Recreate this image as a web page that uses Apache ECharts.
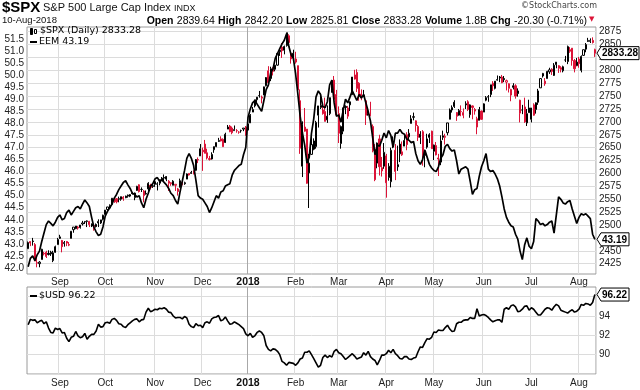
<!DOCTYPE html>
<html><head><meta charset="utf-8">
<script src="https://cdn.jsdelivr.net/npm/echarts@6/dist/echarts.min.js"></script>
<style>html,body{margin:0;padding:0;background:#fff}#c{width:640px;height:390px}</style>
</head><body><div id="c"></div>
<script>
// ---- categories: trading days 14-Aug-2017 .. 10-Aug-2018 ----
const startDay = '2017-08-14', endDay = '2018-08-10';
const holidays = ['2017-09-04','2017-11-23','2017-12-25','2018-01-01','2018-01-15','2018-02-19','2018-03-30','2018-05-28','2018-07-04'];
const xTickLabels = ['Sep','Oct','Nov','Dec','2018','Feb','Mar','Apr','May','Jun','Jul','Aug'];
const spxTicks = [2425,2450,2475,2500,2525,2550,2575,2600,2625,2650,2675,2700,2725,2750,2775,2800,2825,2850,2875];
const eemTicks = [42.0,42.5,43.0,43.5,44.0,44.5,45.0,45.5,46.0,46.5,47.0,47.5,48.0,48.5,49.0,49.5,50.0,50.5,51.0,51.5];
const usdTicks = [90,92,94];

// ---- $SPX daily [open, high, low, close] ----
const spx = [
// Aug 2017
[2454,2468,2454,2466],[2468,2468,2459,2465],[2469,2475,2460,2468],[2462,2465,2430,2430],[2427,2440,2418,2426],
[2425,2430,2418,2428],[2433,2454,2433,2453],[2445,2448,2441,2444],[2447,2450,2436,2439],[2445,2451,2441,2443],
[2447,2450,2440,2444],[2431,2450,2428,2446],[2447,2460,2446,2458],[2462,2475,2462,2472],
// Sep
[2474,2481,2473,2477],[2470,2471,2447,2458],[2464,2469,2458,2466],[2468,2469,2459,2465],[2462,2467,2459,2461],
[2474,2488,2474,2488],[2491,2496,2485,2496],[2493,2498,2492,2498],[2494,2498,2491,2496],[2495,2500,2493,2500],
[2502,2508,2499,2504],[2506,2507,2502,2507],[2507,2509,2496,2508],[2507,2508,2496,2501],[2498,2503,2496,2502],
[2499,2502,2489,2497],[2501,2503,2495,2497],[2504,2511,2496,2507],[2504,2510,2502,2510],[2511,2520,2509,2519],
// Oct
[2521,2529,2520,2529],[2530,2535,2528,2535],[2533,2540,2532,2538],[2540,2552,2538,2552],[2547,2549,2543,2549],
[2551,2552,2542,2545],[2550,2555,2544,2551],[2550,2555,2547,2555],[2554,2556,2547,2551],[2556,2557,2552,2553],
[2556,2559,2553,2558],[2556,2560,2554,2559],[2562,2564,2559,2561],[2553,2563,2548,2562],[2567,2576,2566,2575],
[2578,2579,2563,2565],[2569,2573,2564,2569],[2566,2568,2544,2557],[2561,2567,2559,2560],[2570,2583,2566,2581],
[2577,2580,2569,2573],[2576,2579,2572,2575],
// Nov
[2584,2588,2574,2579],[2579,2583,2567,2580],[2581,2588,2577,2588],[2587,2593,2585,2591],[2592,2598,2585,2591],
[2589,2595,2585,2594],[2581,2587,2566,2585],[2580,2583,2576,2582],[2577,2587,2577,2585],[2577,2579,2566,2579],
[2570,2572,2557,2565],[2573,2590,2573,2586],[2583,2583,2577,2579],[2580,2584,2578,2582],[2589,2600,2589,2599],
[2600,2600,2596,2597],[2600,2605,2599,2602],[2603,2606,2598,2601],[2606,2628,2605,2627],[2627,2631,2620,2626],
[2634,2657,2634,2648],
// Dec
[2645,2650,2605,2642],[2657,2665,2639,2639],[2640,2648,2627,2630],[2627,2634,2625,2629],[2628,2641,2627,2637],
[2646,2652,2640,2652],[2652,2660,2651,2660],[2662,2669,2661,2664],[2667,2672,2662,2663],[2666,2668,2652,2652],
[2660,2679,2659,2676],[2686,2694,2686,2690],[2692,2694,2680,2681],[2688,2691,2676,2679],[2683,2693,2683,2685],
[2683,2686,2679,2683],[2680,2682,2677,2680],[2683,2685,2679,2683],[2686,2688,2682,2688],[2690,2692,2673,2674],
// Jan 2018
[2684,2696,2683,2696],[2698,2715,2698,2713],[2719,2729,2719,2724],[2731,2743,2728,2743],[2743,2748,2737,2748],
[2751,2760,2747,2751],[2746,2751,2736,2748],[2752,2767,2752,2768],[2770,2787,2769,2786],[2799,2808,2769,2776],
[2784,2807,2779,2803],[2802,2806,2790,2798],[2802,2810,2798,2810],[2810,2833,2809,2833],[2836,2843,2828,2839],
[2845,2853,2824,2838],[2846,2848,2831,2839],[2848,2873,2846,2873],[2867,2870,2852,2854],[2833,2838,2813,2822],
[2833,2840,2816,2824],
// Feb
[2816,2836,2813,2822],[2809,2809,2760,2762],[2741,2763,2638,2649],[2614,2701,2593,2695],[2690,2727,2681,2682],
[2686,2686,2580,2581],[2601,2638,2533,2620],[2637,2673,2636,2656],[2647,2668,2645,2663],[2652,2702,2648,2699],
[2713,2731,2689,2731],[2728,2755,2725,2732],[2723,2738,2714,2716],[2720,2747,2701,2701],[2711,2732,2698,2704],
[2716,2747,2713,2747],[2757,2780,2757,2780],[2781,2789,2744,2744],[2753,2762,2713,2714],
// Mar
[2716,2730,2659,2678],[2658,2693,2648,2691],[2682,2728,2676,2721],[2730,2732,2715,2728],[2711,2731,2706,2727],
[2733,2740,2721,2739],[2753,2787,2752,2787],[2791,2801,2782,2783],[2796,2802,2758,2765],[2775,2777,2741,2749],
[2754,2763,2742,2747],[2751,2762,2748,2752],[2741,2742,2694,2713],[2716,2724,2712,2717],[2715,2739,2711,2712],
[2691,2695,2641,2644],[2646,2657,2585,2588],[2620,2660,2610,2659],[2667,2675,2596,2613],[2611,2632,2594,2605],
[2614,2659,2609,2641],
// Apr
[2634,2638,2553,2582],[2592,2620,2586,2614],[2584,2650,2573,2645],[2658,2672,2649,2663],[2645,2657,2587,2604],
[2617,2654,2605,2613],[2638,2666,2622,2657],[2636,2662,2634,2642],[2653,2675,2653,2664],[2675,2680,2645,2656],
[2671,2686,2665,2678],[2697,2713,2697,2706],[2710,2718,2703,2709],[2702,2703,2681,2693],[2691,2694,2663,2670],
[2676,2682,2657,2670],[2681,2684,2615,2635],[2635,2646,2612,2639],[2651,2677,2648,2667],[2675,2678,2659,2670],
[2682,2683,2648,2648],
// May
[2643,2656,2626,2655],[2654,2661,2635,2636],[2628,2638,2595,2630],[2622,2674,2616,2663],[2670,2683,2665,2673],
[2670,2677,2656,2672],[2679,2698,2674,2698],[2705,2726,2705,2723],[2723,2732,2718,2728],[2738,2742,2727,2730],
[2718,2719,2702,2711],[2713,2725,2712,2722],[2720,2732,2711,2720],[2718,2726,2707,2713],[2735,2740,2725,2733],
[2739,2742,2721,2724],[2714,2734,2708,2733],[2731,2732,2705,2728],[2724,2727,2714,2721],[2706,2710,2676,2690],
[2703,2729,2703,2724],[2721,2722,2704,2705],
// Jun
[2719,2736,2719,2735],[2742,2750,2740,2747],[2748,2752,2739,2749],[2753,2772,2748,2772],[2775,2779,2760,2770],
[2765,2779,2763,2779],[2781,2790,2780,2782],[2785,2789,2777,2787],[2787,2791,2775,2776],[2784,2789,2777,2782],
[2777,2782,2761,2780],[2765,2775,2757,2774],[2752,2764,2740,2763],[2770,2775,2763,2767],[2770,2773,2745,2750],
[2760,2765,2749,2755],[2742,2743,2699,2717],[2723,2733,2715,2723],[2729,2747,2698,2700],[2698,2725,2692,2716],
[2727,2743,2718,2718],
// Jul
[2705,2727,2699,2727],[2733,2736,2712,2713],[2724,2738,2716,2737],[2738,2764,2733,2760],[2766,2784,2766,2784],
[2789,2795,2786,2794],[2779,2785,2770,2774],[2784,2799,2784,2798],[2797,2805,2793,2801],[2802,2804,2791,2798],
[2790,2814,2789,2810],[2811,2816,2804,2816],[2809,2810,2795,2804],[2805,2808,2796,2802],[2799,2809,2796,2807],
[2820,2828,2816,2820],[2817,2848,2812,2846],[2840,2845,2834,2837],[2843,2843,2809,2819],[2819,2822,2796,2803],
[2809,2824,2808,2816],
// Aug
[2822,2826,2805,2813],[2800,2829,2796,2827],[2829,2840,2828,2840],[2841,2853,2835,2850],[2856,2863,2855,2858],
[2856,2862,2853,2858],[2858,2864,2852,2854],[2840,2842,2826,2833.28]
];

// ---- EEM close (left scale) ----
const eem = [
42.05,42.40,42.50,42.30,42.55,42.70,43.10,43.45,43.80,43.95,43.85,43.75,43.90,44.10,
44.20,44.00,44.05,44.30,44.40,44.20,44.35,44.50,44.55,44.45,44.65,44.82,44.70,44.55,44.10,43.70,43.50,43.35,43.40,43.70,
44.15,44.35,44.50,44.65,44.90,45.05,45.25,45.40,45.55,45.62,45.45,45.30,45.10,45.05,44.95,45.00,44.70,44.50,44.85,45.10,45.40,45.50,
45.70,45.75,45.60,45.65,45.55,45.45,45.30,45.10,45.00,44.80,44.65,45.15,45.60,46.05,46.55,46.75,46.55,46.25,45.65,45.00,44.90,
44.85,44.70,44.55,44.30,44.50,44.75,45.00,44.90,45.15,45.20,45.40,45.45,45.50,45.85,46.05,46.15,46.25,46.30,46.70,47.00,
48.25,48.60,48.85,48.95,48.80,48.65,48.50,48.95,49.40,49.60,50.10,50.25,50.70,50.90,51.10,51.30,51.45,51.72,51.20,50.85,50.70,
50.05,49.20,48.30,47.60,47.10,46.35,46.60,47.60,48.20,49.10,49.35,49.20,48.70,48.65,48.90,49.60,49.80,48.85,48.30,
48.35,48.05,48.55,49.00,48.85,49.10,49.35,49.15,48.95,49.20,49.05,49.20,48.85,48.50,48.10,47.40,46.70,47.10,47.05,47.30,47.60,
47.40,47.70,47.50,47.00,47.60,47.60,47.75,47.60,47.55,47.35,47.30,47.20,47.25,46.75,46.45,46.30,46.50,46.90,46.60,46.30,46.15,
46.05,46.00,46.20,46.55,46.70,47.05,47.13,46.95,46.85,46.90,46.45,45.90,46.10,46.15,46.20,46.10,45.60,45.05,45.25,45.30,45.80,46.20,
46.45,46.75,46.10,46.00,46.05,45.90,45.70,45.40,44.95,44.45,44.10,43.90,43.75,43.70,43.40,43.20,42.70,42.35,42.95,43.25,42.90,
42.80,43.10,44.05,43.95,43.80,43.85,43.75,43.80,43.90,43.95,43.45,44.20,44.95,44.85,44.70,44.65,44.75,44.80,44.45,44.15,43.85,
44.10,44.25,44.20,44.25,44.15,44.05,43.40,43.19
];

// ---- $USD close ----
const usd = [
93.10,93.65,93.55,93.60,93.30,93.45,93.55,93.20,93.40,92.75,92.30,92.25,92.75,92.60,
92.70,92.25,92.30,91.70,91.35,91.80,91.90,92.40,91.95,91.75,91.85,92.20,91.60,91.90,92.10,92.10,92.45,93.15,92.85,92.90,
93.30,93.35,93.25,93.65,93.75,93.55,93.20,93.15,92.90,92.80,93.10,93.30,93.50,93.65,93.70,93.40,93.60,93.65,94.40,94.80,94.45,94.55,
94.70,94.65,94.80,94.75,94.85,94.70,94.40,94.35,94.00,93.80,93.85,93.85,93.70,93.95,93.80,93.15,92.90,92.80,93.20,93.00,93.05,
92.80,93.30,93.40,93.25,93.70,93.85,93.90,94.05,93.50,93.60,93.90,93.50,93.15,93.20,93.40,93.25,93.10,92.90,92.70,92.15,
91.95,92.20,91.80,91.95,92.30,92.45,92.30,91.95,90.95,90.55,90.40,90.60,90.55,90.35,90.00,89.30,89.15,88.90,89.20,89.15,89.10,
88.90,89.15,89.55,89.65,90.25,90.25,90.40,90.00,89.60,89.15,88.70,88.90,89.70,89.95,89.70,89.90,89.75,90.35,90.55,
90.20,90.10,89.80,89.50,89.70,89.90,90.10,89.85,89.55,89.65,89.75,90.20,89.95,90.35,89.80,89.55,89.40,88.95,89.40,89.95,89.95,
90.10,90.45,90.20,90.55,90.10,89.90,89.60,89.55,89.80,89.80,89.55,89.50,89.65,89.70,90.30,90.80,90.75,91.25,91.65,91.60,91.80,
92.35,92.30,92.55,92.50,92.50,92.80,93.05,92.65,92.40,92.45,93.20,93.35,93.35,93.55,93.60,93.60,93.85,93.75,93.75,94.75,94.00,94.10,
94.15,94.05,93.85,93.60,93.40,93.50,93.60,93.60,93.35,94.70,94.85,94.70,95.05,95.15,94.95,94.45,94.50,94.70,95.00,95.05,94.60,
94.85,94.70,94.40,94.10,94.10,94.40,94.70,94.85,94.80,94.60,94.95,95.20,95.05,94.60,94.50,94.40,94.30,94.50,94.65,94.40,94.50,
94.70,95.20,95.10,95.30,95.25,95.10,95.40,96.22
];

// ---- build trading-day categories ----
const dates = [];
for (let d = new Date(startDay + 'T00:00:00Z'); d <= new Date(endDay + 'T00:00:00Z'); d.setUTCDate(d.getUTCDate() + 1)) {
  const wd = d.getUTCDay();
  if (wd === 0 || wd === 6) continue;
  const s = d.toISOString().slice(0, 10);
  if (holidays.indexOf(s) >= 0) continue;
  dates.push(s);
}
const monthStartLabel = {};
let mi = 0;
for (let i = 1; i < dates.length; i++) {
  if (dates[i].slice(5, 7) !== dates[i - 1].slice(5, 7)) monthStartLabel[i] = xTickLabels[mi++];
}
const isMonthStart = i => monthStartLabel[i] !== undefined;

const BLACK = '#000000', RED = '#dc1438';
const candleData = spx.map((r, i) => {
  const [o, h, l, c] = r;
  const prev = i > 0 ? spx[i - 1][3] : o;
  const col = c >= prev ? BLACK : RED;
  const fill = c > o ? '#ffffff' : col;
  return { value: [o, c, l, h], itemStyle: { color: fill, color0: fill, borderColor: col, borderColor0: col, borderWidth: 1 } };
});

const FONT = '"Liberation Sans", Arial, sans-serif';
const LBL = { fontFamily: FONT, fontSize: 10, color: '#222' };
const GRIDC = '#dcdcdc';
const T = 'rgba(0,0,0,0)';
const vColors = [GRIDC, GRIDC, GRIDC, GRIDC, '#a8a8a8', GRIDC, GRIDC, GRIDC, GRIDC, GRIDC, GRIDC];
const hSpxColors = [T, T, T, T, GRIDC];   // min 2405, step 5 -> grey every 25
const hUsdColors = [GRIDC, T];            // min 88, step 1 -> grey at even values

function xAxisFor(g, margin) {
  return {
    type: 'category', gridIndex: g, data: dates, boundaryGap: true,
    axisLine: { show: false }, axisTick: { show: false },
    axisLabel: Object.assign({}, LBL, {
      margin: margin,
      interval: (i) => isMonthStart(i),
      formatter: (v, i) => { const t = monthStartLabel[i] || ''; return t === '2018' ? '{b|2018}' : t; },
      rich: { b: { fontFamily: FONT, fontSize: 10.5, fontWeight: 'bold', color: '#111' } }
    }),
    splitLine: { show: true, interval: (i) => isMonthStart(i), lineStyle: { color: vColors, width: 1 } }
  };
}

const option = {
  animation: false,
  backgroundColor: '#ffffff',
  textStyle: { fontFamily: FONT },
  grid: [
    { left: 27, top: 27, width: 569, height: 247, show: true, borderColor: '#9a9a9a', borderWidth: 1, backgroundColor: '#fff' },
    { left: 27, top: 287, width: 569, height: 87, show: true, borderColor: '#9a9a9a', borderWidth: 1, backgroundColor: '#fff' }
  ],
  xAxis: [xAxisFor(0, 3), xAxisFor(1, 4)],
  yAxis: [
    { type: 'value', gridIndex: 0, position: 'right', min: 2405, max: 2884, interval: 5, scale: true,
      axisLine: { show: false }, axisTick: { show: false },
      axisLabel: Object.assign({}, LBL, { margin: 3, formatter: v => spxTicks.indexOf(Math.round(v)) >= 0 && Math.abs(v - Math.round(v)) < 1e-6 ? String(Math.round(v)) : '' }),
      splitLine: { show: true, lineStyle: { color: hSpxColors, width: 1 } } },
    { type: 'value', gridIndex: 0, position: 'left', min: 41.75, max: 52.0, interval: 0.25, scale: true,
      axisLine: { show: false }, axisTick: { show: false },
      axisLabel: Object.assign({}, LBL, { margin: 3, formatter: v => eemTicks.some(t => Math.abs(t - v) < 1e-6) ? v.toFixed(1) : '' }),
      splitLine: { show: false } },
    { type: 'value', gridIndex: 1, position: 'right', min: 88, max: 97.0, interval: 1, scale: true,
      axisLine: { show: false }, axisTick: { show: false },
      axisLabel: Object.assign({}, LBL, { margin: 3, formatter: v => usdTicks.some(t => Math.abs(t - v) < 1e-6) ? String(Math.round(v)) : '' }),
      splitLine: { show: true, lineStyle: { color: hUsdColors, width: 1 } } }
  ],
  series: [
    { name: '$SPX', type: 'candlestick', xAxisIndex: 0, yAxisIndex: 0, data: candleData, barWidth: 1.6, z: 2 },
    { name: 'EEM', type: 'line', xAxisIndex: 0, yAxisIndex: 1, data: eem, showSymbol: false, symbol: 'none',
      lineStyle: { color: '#000', width: 1.7 }, z: 3 },
    { name: '$USD', type: 'line', xAxisIndex: 1, yAxisIndex: 2, data: usd, showSymbol: false, symbol: 'none',
      lineStyle: { color: '#000', width: 1.6 }, z: 3 }
  ]
};

const chart = echarts.init(document.getElementById('c'), null, { width: 640, height: 390 });
chart.setOption(option);

const lastSpx = spx[spx.length - 1][3], lastEem = eem[eem.length - 1], lastUsd = usd[usd.length - 1];
function tag(yAxisIndex, value, text) {
  const y = chart.convertToPixel({ yAxisIndex: yAxisIndex }, value);
  const x0 = 597, w = text.length * 5.0 + 3;
  return [
    { type: 'polygon', z: 100, shape: { points: [[x0, y], [x0 + 4, y - 6.5], [x0 + 4 + w, y - 6.5], [x0 + 4 + w, y + 6.5], [x0 + 4, y + 6.5]] },
      style: { fill: '#fff', stroke: '#000', lineWidth: 1 } },
    { type: 'text', z: 101, x: x0 + 5, y: y + 0.5, style: { text: text, font: 'bold 10px ' + FONT, fill: '#000', verticalAlign: 'middle' } }
  ];
}

const hdrVals = { fontFamily: FONT, fontSize: 10.5, color: '#222' };
const hdrBold = { fontFamily: FONT, fontSize: 10.5, fontWeight: 'bold', color: '#000' };
const graphics = [
  { type: 'text', x: 2, y: 0, style: { text: '$SPX', font: 'bold 15px ' + FONT, fill: '#000' } },
  { type: 'text', x: 43, y: 2, style: { text: 'S&P 500 Large Cap Index', font: '11px ' + FONT, fill: '#111' } },
  { type: 'text', x: 174, y: 4, style: { text: 'INDX', font: '9px ' + FONT, fill: '#111' } },
  { type: 'text', x: 2, y: 15, style: { text: '10-Aug-2018', font: '9.5px ' + FONT, fill: '#111' } },
  { type: 'text', x: 587, y: 15, style: { align: 'right',
      text: '{b|Open} {v|2839.64} {b|High} {v|2842.20} {b|Low} {v|2825.81} {b|Close} {v|2833.28} {b|Volume} {v|1.8B} {b|Chg} {v|-20.30 (-0.71%)}',
      rich: { b: hdrBold, v: hdrVals } } },
  { type: 'text', x: 589, y: 16, style: { text: '▼', font: '7px "DejaVu Sans"', fill: RED } },
  { type: 'text', x: 597, y: 2, style: { text: '©StockCharts.com', font: '8px "DejaVu Sans"', fill: '#444', align: 'right' } },
  // legend main panel
  { type: 'rect', shape: { x: 30.5, y: 28.5, width: 2, height: 6 }, style: { fill: '#000', stroke: '#000', lineWidth: 1 } },
  { type: 'rect', shape: { x: 34.5, y: 29.5, width: 2, height: 4 }, style: { fill: '#fff', stroke: '#000', lineWidth: 1 } },
  { type: 'text', x: 40, y: 26, style: { text: '$SPX (Daily) 2833.28', font: '9.5px "DejaVu Sans"', fill: '#000' } },
  { type: 'line', shape: { x1: 30, y1: 42, x2: 37, y2: 42 }, style: { stroke: '#000', lineWidth: 2 } },
  { type: 'text', x: 39, y: 37, style: { text: 'EEM 43.19', font: '9.5px "DejaVu Sans"', fill: '#000' } },
  // legend USD panel
  { type: 'line', shape: { x1: 30, y1: 296, x2: 37, y2: 296 }, style: { stroke: '#000', lineWidth: 2 } },
  { type: 'text', x: 39, y: 291, style: { text: '$USD 96.22', font: '9.5px "DejaVu Sans"', fill: '#000' } }
].concat(tag(0, lastSpx, '2833.28'), tag(1, lastEem, '43.19'), tag(2, lastUsd, '96.22'));

chart.setOption({ graphic: graphics });
</script>
</body></html>
